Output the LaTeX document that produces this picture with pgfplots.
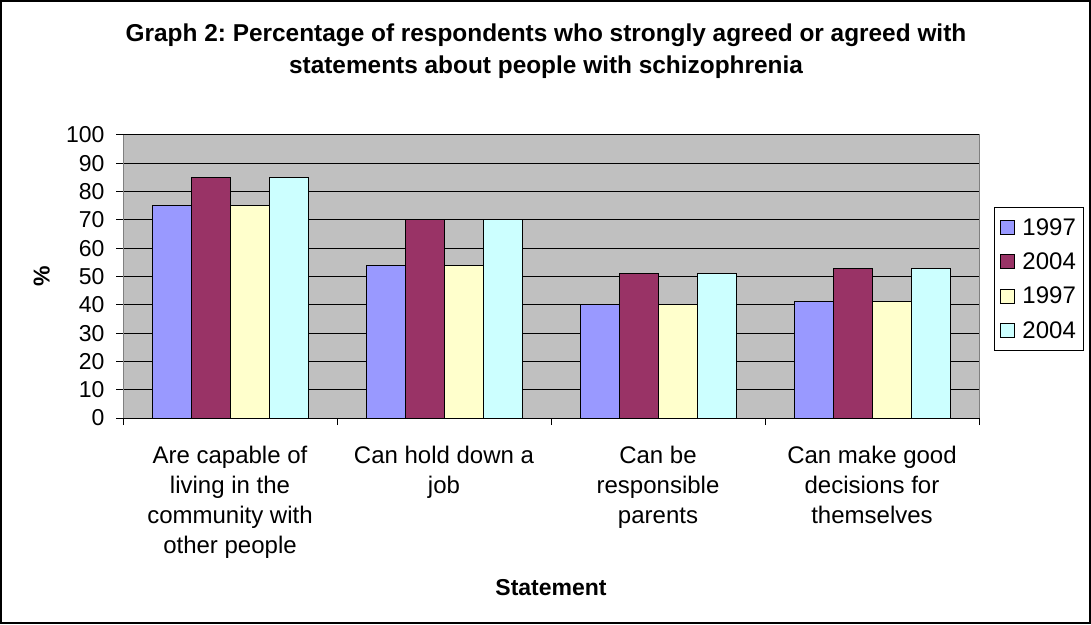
\documentclass[border=0pt]{standalone}
\usepackage{fontspec}
\setmainfont{Liberation Sans}
\usepackage{pgfplots}
\pgfplotsset{compat=1.18}
\definecolor{cA}{HTML}{9999FF}
\definecolor{cB}{HTML}{993366}
\definecolor{cC}{HTML}{FFFFCC}
\definecolor{cD}{HTML}{CCFFFF}
\definecolor{cBg}{HTML}{C0C0C0}
\definecolor{cFr}{HTML}{808080}
\begin{document}
\frenchspacing
\begin{tikzpicture}[x=1pt,y=1pt]
\draw[line width=2pt] (1,1) rectangle (1090,623);
\node[align=center, font=\bfseries\fontsize{24.4}{32}\selectfont] at (546,573) {Graph 2: Percentage of respondents who strongly agreed or agreed with\\statements about people with schizophrenia};
\begin{axis}[
  at={(123pt,206pt)}, anchor=south west,
  scale only axis, width=856pt, height=283pt,
  ybar=0pt, bar width=39pt,
  xmin=-0.5, xmax=3.5, ymin=0, ymax=100,
  ytick={0,10,...,100},
  xtick={-0.5,0.5,1.5,2.5,3.5}, xticklabels={},
  extra x ticks={0,1,2,3},
  extra x tick labels={{Are capable of\\living in the\\community with\\other people},{Can hold down a\\job},{Can be\\responsible\\parents},{Can make good\\decisions for\\themselves}},
  extra x tick style={major tick length=0pt, grid=none, tick label style={align=center, yshift=-25pt, font=\fontsize{24}{30}\selectfont}},
  tick align=outside, major tick length=7pt,
  xtick pos=left, ytick pos=left,
  ymajorgrids, grid style={black, line width=1pt},
  axis line style={draw=none},
  axis background/.style={fill=cBg, draw=cFr, line width=1pt},
  tick style={black, line width=1pt},
  tick label style={font=\fontsize{23}{30}\selectfont},
  yticklabel style={xshift=-8pt},
  /pgf/number format/assume math mode=true,
  ylabel={\textbf{\%}},
  ylabel style={at={(axis description cs:-0.095,0.5)}, anchor=center, font=\fontsize{23}{26}\selectfont},
  xlabel={\textbf{Statement}},
  xlabel style={at={(axis description cs:0.5,-0.60)}, anchor=center, font=\fontsize{23}{26}\selectfont},
  legend style={at={(axis description cs:1.0175,0.7456)}, anchor=north west, draw=black, fill=white,
    font=\fontsize{24}{26}\selectfont, row sep=12pt, inner xsep=6pt, inner ysep=9pt, line width=1pt},
  legend cell align=left,
  legend image code/.code={\draw[#1, draw=black, line width=1pt] (0pt,-7pt) rectangle (14pt,7pt); \path (19pt,0pt);},
]
\addplot[fill=cA, draw=black, line width=1pt] coordinates {(0,75) (1,54) (2,40) (3,41)};
\addplot[fill=cB, draw=black, line width=1pt] coordinates {(0,85) (1,70) (2,51) (3,53)};
\addplot[fill=cC, draw=black, line width=1pt] coordinates {(0,75) (1,54) (2,40) (3,41)};
\addplot[fill=cD, draw=black, line width=1pt] coordinates {(0,85) (1,70) (2,51) (3,53)};
\legend{1997,2004,1997,2004}
\draw[cFr, line width=1pt] (rel axis cs:0,1) -- (rel axis cs:0,0);
\draw[black, line width=1pt] (rel axis cs:0,0) -- (rel axis cs:1,0);
\end{axis}
\end{tikzpicture}
\end{document}
